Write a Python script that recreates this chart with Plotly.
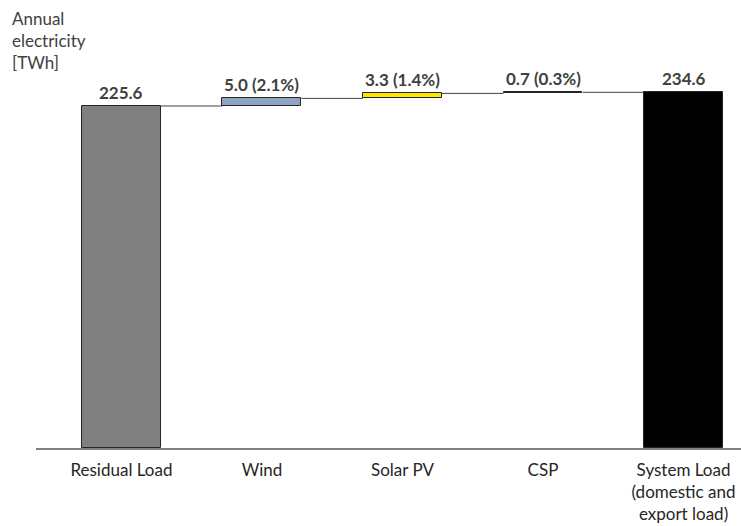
import plotly.graph_objects as go

categories = ["Residual Load", "Wind", "Solar PV", "CSP", "System Load<br>(domestic and<br>export load)"]
values = [225.6, 5.0, 3.3, 0.7, 234.6]
measures = ["absolute", "relative", "relative", "relative", "total"]
labels = ["225.6", "5.0 (2.1%)", "3.3 (1.4%)", "0.7 (0.3%)", "234.6"]
colors = ["#808080", "#8FA3C4", "#FFE600", "#000000", "#000000"]

FONT = "Lato, 'Open Sans', sans-serif"
TXT = "#404040"
BW = 0.562

bases, tops = [], []
cum = 0.0
for v, m in zip(values, measures):
    if m == "absolute":
        b, t = 0.0, v
        cum = v
    elif m == "relative":
        b, t = cum, cum + v
        cum = t
    else:
        b, t = 0.0, v
    bases.append(b)
    tops.append(t)

xs = list(range(len(categories)))
fig = go.Figure()
fig.add_trace(go.Bar(
    x=xs, y=[t - b for t, b in zip(tops, bases)], base=bases, width=BW,
    marker=dict(color=colors, line=dict(color="#262626", width=1)),
    hoverinfo="skip", showlegend=False,
))

# connectors
cx, cy = [], []
for i in range(len(xs) - 1):
    lvl = tops[i]
    cx += [xs[i] + BW / 2, xs[i + 1] - BW / 2, None]
    cy += [lvl, lvl, None]
fig.add_trace(go.Scatter(x=cx, y=cy, mode="lines", line=dict(color="#404040", width=1),
                         hoverinfo="skip", showlegend=False))

for x, t, lab in zip(xs, tops, labels):
    fig.add_annotation(x=x, y=t, text="<b>" + lab + "</b>", showarrow=False,
                       yanchor="bottom", yshift=1, font=dict(family=FONT, size=17, color=TXT))

fig.add_annotation(xref="paper", yref="paper", x=-0.037, y=1.01, xanchor="left", yanchor="top",
                   align="left", showarrow=False,
                   text="Annual<br>electricity<br>[TWh]",
                   font=dict(family=FONT, size=17, color=TXT))

fig.update_layout(
    width=741, height=526, plot_bgcolor="white", paper_bgcolor="white",
    margin=dict(l=36, r=0, t=10, b=78, autoexpand=False),
    bargap=0,
    xaxis=dict(range=[-0.608, 4.409], tickvals=xs, ticktext=categories,
               showline=True, linecolor="#808080", linewidth=1.5, showgrid=False,
               zeroline=False, ticks="", ticklabelstandoff=6,
               tickfont=dict(family=FONT, size=17, color="#262626")),
    yaxis=dict(range=[0, 288.9], visible=False, showgrid=False, zeroline=False),
)
fig.write_html("out.html", config={"displayModeBar": False},
               post_script="document.body.style.margin='0px';")
